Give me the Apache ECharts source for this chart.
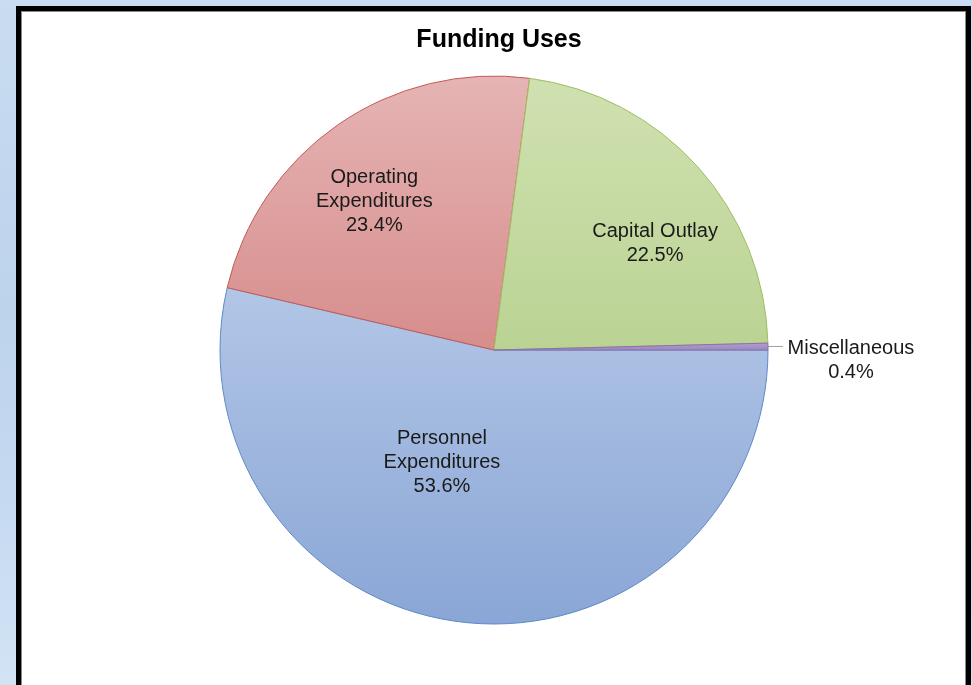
<!DOCTYPE html>
<html><head><meta charset="utf-8">
<script src="https://cdn.jsdelivr.net/npm/echarts@6/dist/echarts.min.js"></script>
<style>
html,body{margin:0;padding:0;width:972px;height:685px;overflow:hidden;}
body{background:linear-gradient(to bottom,#c9dcf1 0%,#bdd3ec 45%,#c6daf1 75%,#d2e3f4 100%);position:relative;}
#frame{position:absolute;left:16px;top:6px;width:945px;height:720px;background:#fff;border:5px solid #000;box-shadow:inset 0 0 0 1px #8a8a8a;}
#chart{position:absolute;left:0;top:0;width:972px;height:685px;}
</style></head><body>
<div id="frame"></div><div id="chart"></div>
<script>
const categories = ['Personnel\nExpenditures', 'Operating\nExpenditures', 'Capital Outlay', 'Miscellaneous'];
const shares = [53.6, 23.4, 22.5, 0.4];

const fills = [['#b2c6e6', '#8aa6d6'], ['#e6b4b4', '#d68d8c'], ['#d0e1b1', '#bad393'], ['#b3a2cf', '#9a84bf']];
const borders = ['#5f8ac4', '#c45a57', '#9fbf5f', '#8a70ab'];
const labelShift = [[-36, -27], [-40, -33], [57, -13], [0, 0]];
const FONT = 'Liberation Sans, Arial, sans-serif';

const chart = echarts.init(document.getElementById('chart'));
const data = categories.map((name, i) => {
  const item = {
    name: name,
    value: shares[i],
    itemStyle: {
      color: new echarts.graphic.LinearGradient(0, 0, 0, 1, [
        {offset: 0, color: fills[i][0]}, {offset: 1, color: fills[i][1]}
      ]),
      borderColor: borders[i],
      borderWidth: 1
    }
  };
  if (i === 3) {
    item.label = {
      position: 'outside',
      padding: [28, 0, 0, 0],
      distanceToLabelLine: 3,
      formatter: p => '{a|' + p.name + '}\n{a|' + p.value.toFixed(1) + '%}',
      rich: {a: {width: 130, align: 'center', fontSize: 20, lineHeight: 24, color: '#1a1a1a', fontFamily: FONT}}
    };
    item.labelLine = {show: true, length: 7, length2: 8, lineStyle: {color: '#a0a0a0', width: 1}};
  }
  return item;
});

chart.setOption({
  animation: false,
  title: {
    text: 'Funding Uses',
    left: 494,
    textAlign: 'center',
    top: 23,
    textStyle: {fontSize: 25, fontWeight: 'bold', color: '#000', fontFamily: FONT}
  },
  series: [{
    type: 'pie',
    center: [494, 350],
    radius: [0, 274],
    startAngle: 0,
    clockwise: true,
    data: data,
    label: {
      position: 'inside',
      formatter: p => p.name + '\n' + p.value.toFixed(1) + '%',
      fontSize: 20,
      lineHeight: 24,
      color: '#1a1a1a',
      fontFamily: FONT
    },
    labelLine: {show: false},
    labelLayout: p => ({dx: labelShift[p.dataIndex][0], dy: labelShift[p.dataIndex][1]}),
    emphasis: {disabled: true}
  }]
});
</script>
</body></html>
